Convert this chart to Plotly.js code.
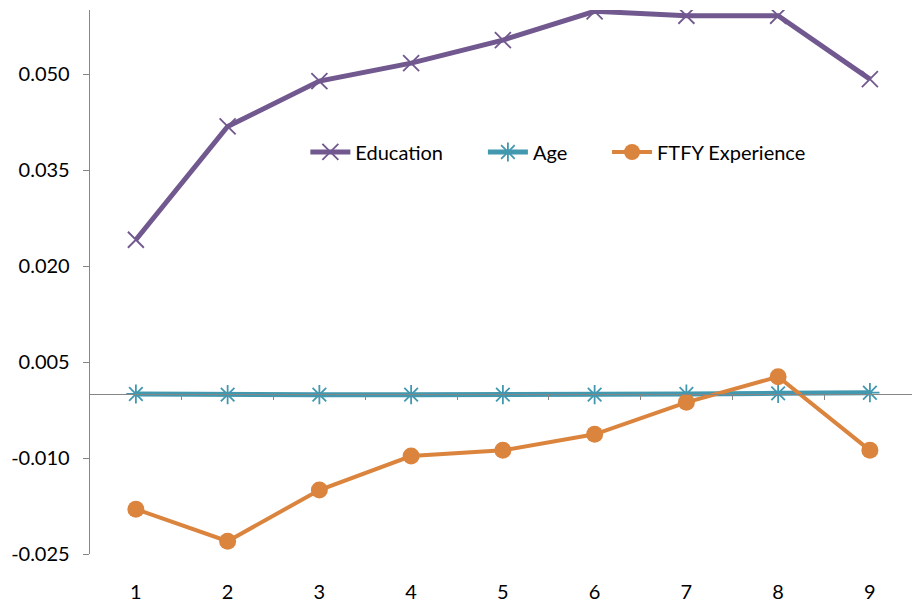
<!DOCTYPE html>
<html>
<head>
<meta charset="utf-8">
<script src="https://cdn.plot.ly/plotly-3.0.1.min.js"></script>
<style>html,body{margin:0;padding:0;background:#fff;}#chart{width:912px;height:604px;}</style>
</head>
<body>
<div id="chart"></div>
<script>
const categories = [1, 2, 3, 4, 5, 6, 7, 8, 9];
const education = [0.0241, 0.0418, 0.0489, 0.0517, 0.0553, 0.0598, 0.0591, 0.0591, 0.0492];
const age = [0.0000, -0.0001, -0.0001, -0.0001, -0.0001, -0.0001, 0.0000, 0.0001, 0.0002];
const ftfy = [-0.0180, -0.0230, -0.0150, -0.0097, -0.0088, -0.0063, -0.0013, 0.0027, -0.0088];
const yTickVals = [-0.025, -0.010, 0.005, 0.020, 0.035, 0.050];
const yTickText = ["-0.025", "-0.010", "0.005", "0.020", "0.035", "0.050"];
const betweenTicks = [1.5, 2.5, 3.5, 4.5, 5.5, 6.5, 7.5, 8.5];

const FONT = "Lato, 'Open Sans', sans-serif";
const AXIS = "#868686";

const traces = [
  {x: categories, y: education, name: "Education", type: "scatter", mode: "lines+markers",
   legend: "legend",
   line: {color: "#71588F", width: 5},
   marker: {symbol: "x-thin", size: 16, color: "#71588F", line: {color: "#71588F", width: 1.8}}},
  {x: categories, y: age, name: "Age", type: "scatter", mode: "lines+markers",
   legend: "legend2",
   line: {color: "#4198AF", width: 5},
   marker: {symbol: "asterisk", size: 16, color: "#4198AF", line: {color: "#4198AF", width: 1.8}}},
  {x: categories, y: ftfy, name: "FTFY Experience", type: "scatter", mode: "lines+markers",
   legend: "legend3",
   line: {color: "#DB843D", width: 4},
   marker: {symbol: "circle", size: 17, color: "#DB843D"}},
  {x: [], y: [], xaxis: "x2", type: "scatter", mode: "lines", showlegend: false, hoverinfo: "skip"}
];

const xr = [0.5, 9.459];
function leg(x) {
  return {orientation: "h", x: x, y: 0.739, xanchor: "left", yanchor: "middle",
          font: {family: FONT, size: 20, color: "#000"}, itemwidth: 40,
          bgcolor: "rgba(0,0,0,0)"};
}
const layout = {
  width: 912, height: 604,
  margin: {l: 90, r: 0, t: 10, b: 50},
  paper_bgcolor: "#fff", plot_bgcolor: "#fff",
  font: {family: FONT, size: 20, color: "#000"},
  showlegend: true,
  legend: leg(0.262),
  legend2: leg(0.478),
  legend3: leg(0.629),
  xaxis: {range: xr, tickvals: categories, ticktext: categories.map(String),
          showline: false, showgrid: false, zeroline: false, ticks: "",
          ticklabelstandoff: 24, tickfont: {family: FONT, size: 20}},
  xaxis2: {overlaying: "x", anchor: "free", position: 0.2941, range: xr,
           tickvals: betweenTicks, showticklabels: false, ticks: "outside", ticklen: 5,
           tickcolor: AXIS, showline: true, linecolor: AXIS, linewidth: 1.3,
           showgrid: false, zeroline: false},
  yaxis: {range: [-0.025, 0.06], tickvals: yTickVals, ticktext: yTickText,
          showline: true, linecolor: AXIS, linewidth: 1.3, ticks: "outside", ticklen: 6,
          tickcolor: AXIS, showgrid: false, zeroline: false, ticklabelstandoff: 9,
          tickfont: {family: FONT, size: 20}}
};

Plotly.newPlot("chart", traces, layout, {displayModeBar: false, staticPlot: true});
</script>
</body>
</html>
